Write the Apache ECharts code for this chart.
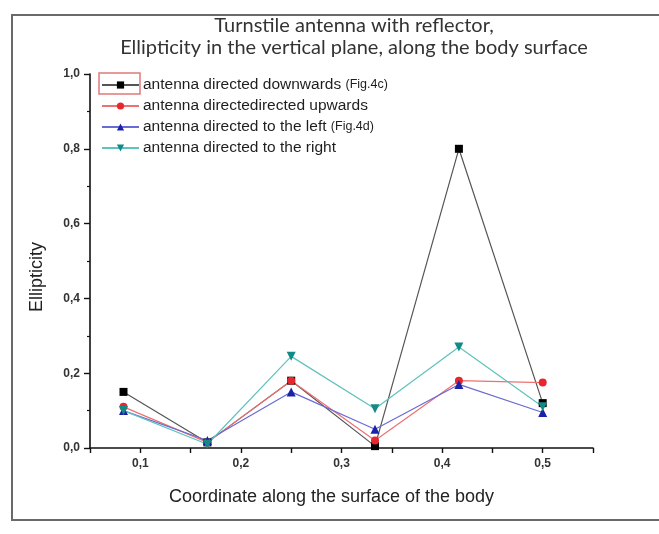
<!DOCTYPE html>
<html>
<head>
<meta charset="utf-8">
<script src="https://cdn.jsdelivr.net/npm/echarts@6/dist/echarts.min.js"></script>
<style>
  html, body { margin: 0; padding: 0; background: #fff; }
  #chart { width: 659px; height: 534px; }
</style>
</head>
<body>
<div id="chart"></div>
<script>
// Positions along the body surface (1/12 steps)
const coords = [0.0833, 0.1667, 0.25, 0.3333, 0.4167, 0.5];

// Ellipticity for each antenna orientation
const downwards = [0.15, 0.015, 0.18, 0.005, 0.80, 0.12];
const upwards   = [0.11, 0.015, 0.18, 0.02, 0.18, 0.175];
const toLeft    = [0.10, 0.02, 0.15, 0.05, 0.17, 0.095];
const toRight   = [0.10, 0.01, 0.245, 0.105, 0.27, 0.11];

const seriesNames = [
  'antenna directed downwards',
  'antenna directedirected upwards',
  'antenna directed to the left',
  'antenna directed to the right'
];
const legendSuffix = {
  'antenna directed downwards': '(Fig.4c)',
  'antenna directed to the left': '(Fig.4d)'
};

const titleLines = [
  'Turnstile antenna with reflector,',
  'Ellipticity in the vertical plane, along the body surface'
];
const xTitle = 'Coordinate along the surface of the body';
const yTitle = 'Ellipticity';

function pairs(vals) {
  return coords.map((x, i) => [x, vals[i]]);
}
function comma(v) {
  return v.toFixed(1).replace('.', ',');
}

const chart = echarts.init(document.getElementById('chart'), null, { renderer: 'canvas' });

function lineSeries(name, vals, color, lineColor, symbol, size, rotate) {
  return {
    name: name,
    type: 'line',
    data: pairs(vals),
    symbol: symbol,
    symbolSize: size,
    symbolRotate: rotate || 0,
    showAllSymbol: true,
    itemStyle: { color: color },
    lineStyle: { color: lineColor, width: 1.2 },
    emphasis: { disabled: true },
    animation: false
  };
}

const option = {
  backgroundColor: '#fff',
  animation: false,
  title: {
    text: titleLines.join('\n'),
    left: 354,
    top: 15,
    padding: 0,
    textAlign: 'center',
    textStyle: {
      fontFamily: 'Lato',
      fontSize: 20,
      fontWeight: 'normal',
      color: '#333',
      lineHeight: 22
    }
  },
  grid: { left: 90, top: 74, width: 503, height: 374, containLabel: false, outerBoundsMode: 'none' },
  legend: {
    orient: 'vertical',
    left: 101,
    top: 77,
    padding: 0,
    itemWidth: 37,
    itemHeight: 9,
    itemGap: 5,
    data: seriesNames,
    selectedMode: false,
    formatter: function (name) {
      return legendSuffix[name] ? name + ' {s|' + legendSuffix[name] + '}' : name;
    },
    textStyle: {
      fontFamily: 'Liberation Sans',
      fontSize: 15.5,
      color: '#1e1e1e',
      lineHeight: 16,
      padding: [0, 0, 0, -1],
      rich: {
        s: { fontFamily: 'Liberation Sans', fontSize: 12.5, color: '#1e1e1e', lineHeight: 16 }
      }
    }
  },
  xAxis: {
    type: 'value',
    min: 0.05,
    max: 0.55,
    interval: 0.05,
    name: xTitle,
    nameLocation: 'middle',
    nameGap: 40,
    nameTextStyle: { fontFamily: 'Liberation Sans', fontSize: 18, color: '#222', padding: [0, 20, 0, 0] },
    axisLine: { onZero: false, lineStyle: { color: '#111', width: 1.6 } },
    axisTick: { inside: false, length: 5, lineStyle: { color: '#111', width: 1.4 } },
    axisLabel: {
      margin: 10,
      fontFamily: 'Liberation Sans',
      fontSize: 12,
      fontWeight: 'bold',
      color: '#333',
      formatter: function (v) {
        const k = Math.round(v * 100);
        return (k % 10 === 0) ? comma(v) : '';
      }
    },
    splitLine: { show: false }
  },
  yAxis: {
    type: 'value',
    min: 0,
    max: 1,
    interval: 0.2,
    name: yTitle,
    nameLocation: 'middle',
    nameGap: 44,
    nameRotate: 90,
    nameTextStyle: { fontFamily: 'Liberation Sans', fontSize: 18, color: '#222', padding: [0, 32, 0, 0] },
    axisLine: { show: true, lineStyle: { color: '#111', width: 1.6 } },
    axisTick: { show: true, inside: false, length: 6, lineStyle: { color: '#111', width: 1.4 } },
    minorTick: { show: true, splitNumber: 2, length: 3, lineStyle: { color: '#111', width: 1.2 } },
    axisLabel: {
      margin: 10,
      fontFamily: 'Liberation Sans',
      fontSize: 12,
      fontWeight: 'bold',
      color: '#333',
      formatter: comma
    },
    splitLine: { show: false }
  },
  graphic: [
    {
      type: 'rect',
      shape: { x: 12, y: 15, width: 660, height: 505 },
      style: { fill: 'none', stroke: '#6a6a6a', lineWidth: 2 },
      silent: true,
      z: -1
    },
    {
      type: 'rect',
      shape: { x: 99, y: 73, width: 41, height: 21 },
      style: { fill: 'none', stroke: '#e07a7a', lineWidth: 1.5 },
      silent: true
    }
  ],
  series: [
    lineSeries(seriesNames[0], downwards, '#000000', '#555555', 'rect', 8),
    lineSeries(seriesNames[1], upwards, '#e8262e', '#ef7070', 'circle', 8),
    lineSeries(seriesNames[2], toLeft, '#1c22a8', '#6a6ad6', 'triangle', 9),
    lineSeries(seriesNames[3], toRight, '#148a86', '#5ec2be', 'triangle', 9, 180)
  ]
};

chart.setOption(option);
</script>
</body>
</html>
